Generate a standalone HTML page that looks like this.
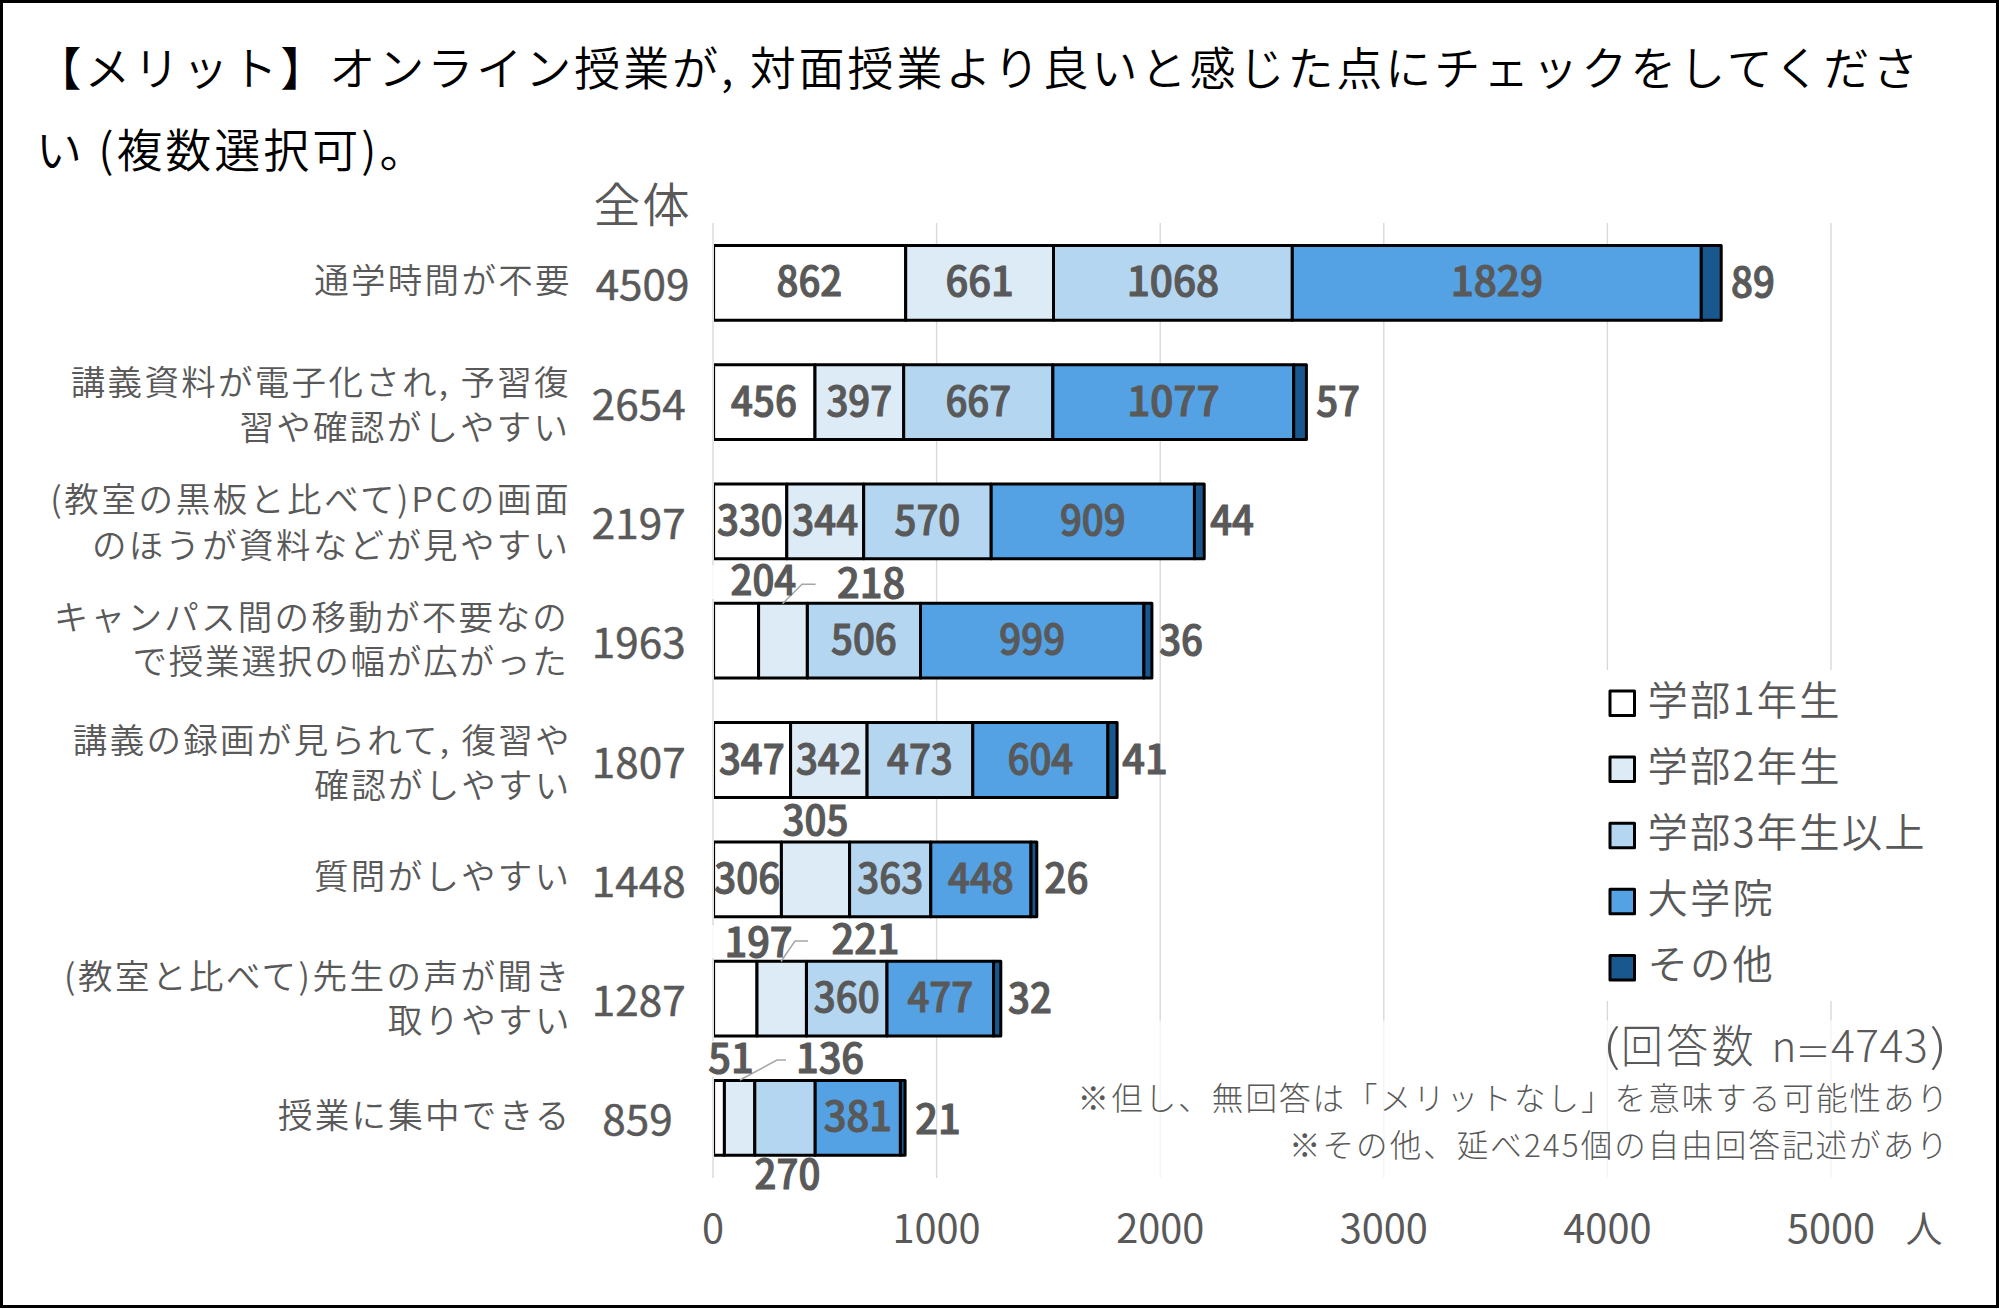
<!DOCTYPE html>
<html lang="ja"><head><meta charset="utf-8"><title>オンライン授業のメリット</title>
<style>html,body{margin:0;padding:0;background:#fff}svg{display:block}text{font-family:'Noto Sans CJK JP','Liberation Sans',sans-serif;}.t{fill:#000;font-size:46px;font-weight:350;letter-spacing:2.97px}.c{fill:#595959;font-size:34.5px;font-weight:350;letter-spacing:2.3px;text-anchor:end}.tot{fill:#595959;font-size:41px;font-weight:400;stroke:#595959;stroke-width:0.5px;text-anchor:middle}.d{fill:#595959;font-size:40.5px;font-weight:500;stroke:#595959;stroke-width:1.1px;stroke-linejoin:round;text-anchor:middle}.ax{fill:#595959;font-size:39.7px;text-anchor:middle}.lg{fill:#595959;font-size:40.3px;font-weight:350;letter-spacing:2.2px}.n{fill:#595959;font-size:44.5px;font-weight:300;letter-spacing:0.5px}.nt{fill:#595959;font-size:31.5px;font-weight:300;letter-spacing:2.06px;text-anchor:end}</style></head><body>
<svg width="1999" height="1309" viewBox="0 0 1999 1309">
<rect x="0" y="0" width="1999" height="1309" fill="#fff"/>
<defs><clipPath id="cl"><rect x="714.1" y="200" width="1300" height="1000"/></clipPath></defs>
<g stroke="#D9D9D9" stroke-width="1.4">
<line x1="713.0" y1="223" x2="713.0" y2="1178"/>
<line x1="936.6" y1="223" x2="936.6" y2="1178"/>
<line x1="1160.2" y1="223" x2="1160.2" y2="1178"/>
<line x1="1383.8" y1="223" x2="1383.8" y2="1178"/>
<line x1="1607.4" y1="223" x2="1607.4" y2="1178"/>
<line x1="1831.0" y1="223" x2="1831.0" y2="1178"/>
</g>
<rect x="1066" y="1020.5" width="890" height="160" fill="#fff" fill-opacity="0.72"/>
<rect x="1596" y="670" width="345" height="331" fill="#fff"/>
<rect x="711" y="565" width="104.6" height="34" fill="#fff" fill-opacity="0.8"/>
<rect x="710.9" y="925" width="97.7" height="33" fill="#fff" fill-opacity="0.8"/>
<rect x="674" y="1041" width="112" height="36" fill="#fff" fill-opacity="0.8"/>
<g stroke="#000" stroke-width="3" stroke-linejoin="round" clip-path="url(#cl)">
<rect x="713.6" y="245.4" width="192.1" height="74.8" fill="#FFFFFF"/>
<rect x="905.7" y="245.4" width="147.8" height="74.8" fill="#DDEBF7"/>
<rect x="1053.5" y="245.4" width="238.8" height="74.8" fill="#B4D6F1"/>
<rect x="1292.3" y="245.4" width="409.0" height="74.8" fill="#54A1E4"/>
<rect x="1701.3" y="245.4" width="19.9" height="74.8" fill="#19588F"/>
</g>
<g stroke="#000" stroke-width="3" stroke-linejoin="round" clip-path="url(#cl)">
<rect x="713.6" y="364.7" width="101.4" height="74.8" fill="#FFFFFF"/>
<rect x="815.0" y="364.7" width="88.8" height="74.8" fill="#DDEBF7"/>
<rect x="903.7" y="364.7" width="149.1" height="74.8" fill="#B4D6F1"/>
<rect x="1052.9" y="364.7" width="240.8" height="74.8" fill="#54A1E4"/>
<rect x="1293.7" y="364.7" width="12.7" height="74.8" fill="#19588F"/>
</g>
<g stroke="#000" stroke-width="3" stroke-linejoin="round" clip-path="url(#cl)">
<rect x="713.6" y="484.0" width="73.2" height="74.8" fill="#FFFFFF"/>
<rect x="786.8" y="484.0" width="76.9" height="74.8" fill="#DDEBF7"/>
<rect x="863.7" y="484.0" width="127.5" height="74.8" fill="#B4D6F1"/>
<rect x="991.2" y="484.0" width="203.3" height="74.8" fill="#54A1E4"/>
<rect x="1194.4" y="484.0" width="9.8" height="74.8" fill="#19588F"/>
</g>
<g stroke="#000" stroke-width="3" stroke-linejoin="round" clip-path="url(#cl)">
<rect x="713.6" y="603.3" width="45.0" height="74.8" fill="#FFFFFF"/>
<rect x="758.6" y="603.3" width="48.7" height="74.8" fill="#DDEBF7"/>
<rect x="807.4" y="603.3" width="113.1" height="74.8" fill="#B4D6F1"/>
<rect x="920.5" y="603.3" width="223.4" height="74.8" fill="#54A1E4"/>
<rect x="1143.9" y="603.3" width="8.0" height="74.8" fill="#19588F"/>
</g>
<g stroke="#000" stroke-width="3" stroke-linejoin="round" clip-path="url(#cl)">
<rect x="713.6" y="722.6" width="77.0" height="74.8" fill="#FFFFFF"/>
<rect x="790.6" y="722.6" width="76.5" height="74.8" fill="#DDEBF7"/>
<rect x="867.1" y="722.6" width="105.8" height="74.8" fill="#B4D6F1"/>
<rect x="972.8" y="722.6" width="135.1" height="74.8" fill="#54A1E4"/>
<rect x="1107.9" y="722.6" width="9.2" height="74.8" fill="#19588F"/>
</g>
<g stroke="#000" stroke-width="3" stroke-linejoin="round" clip-path="url(#cl)">
<rect x="713.6" y="841.9" width="67.8" height="74.8" fill="#FFFFFF"/>
<rect x="781.4" y="841.9" width="68.2" height="74.8" fill="#DDEBF7"/>
<rect x="849.6" y="841.9" width="81.2" height="74.8" fill="#B4D6F1"/>
<rect x="930.8" y="841.9" width="100.2" height="74.8" fill="#54A1E4"/>
<rect x="1031.0" y="841.9" width="5.8" height="74.8" fill="#19588F"/>
</g>
<g stroke="#000" stroke-width="3" stroke-linejoin="round" clip-path="url(#cl)">
<rect x="713.6" y="961.2" width="43.4" height="74.8" fill="#FFFFFF"/>
<rect x="757.0" y="961.2" width="49.4" height="74.8" fill="#DDEBF7"/>
<rect x="806.5" y="961.2" width="80.5" height="74.8" fill="#B4D6F1"/>
<rect x="887.0" y="961.2" width="106.7" height="74.8" fill="#54A1E4"/>
<rect x="993.6" y="961.2" width="7.2" height="74.8" fill="#19588F"/>
</g>
<g stroke="#000" stroke-width="3" stroke-linejoin="round" clip-path="url(#cl)">
<rect x="713.6" y="1080.5" width="10.8" height="74.8" fill="#FFFFFF"/>
<rect x="724.4" y="1080.5" width="30.4" height="74.8" fill="#DDEBF7"/>
<rect x="754.8" y="1080.5" width="60.4" height="74.8" fill="#B4D6F1"/>
<rect x="815.2" y="1080.5" width="85.2" height="74.8" fill="#54A1E4"/>
<rect x="900.4" y="1080.5" width="4.7" height="74.8" fill="#19588F"/>
</g>
<g fill="none" stroke="#A6A6A6" stroke-width="1.5">
<polyline points="782.5,603.8 802,584.3 815.6,584.3"/>
<polyline points="781,961.5 795,941 808,941"/>
<polyline points="740,1080 777,1060 786,1060"/>
</g>
<text class="d" transform="translate(809.4,296.3) scale(0.95,1)">862</text>
<text class="d" transform="translate(979.6,296.3) scale(0.985,1)">661</text>
<text class="d" transform="translate(1172.9,296.3) scale(1.0,1)">1068</text>
<text class="d" transform="translate(1496.8,296.3) scale(1.0,1)">1829</text>
<text class="d" transform="translate(1752.9,296.8) scale(0.95,1)">89</text>
<text class="d" transform="translate(764.0,415.6) scale(0.95,1)">456</text>
<text class="d" transform="translate(859.3,415.6) scale(0.95,1)">397</text>
<text class="d" transform="translate(978.3,415.6) scale(0.95,1)">667</text>
<text class="d" transform="translate(1173.3,415.6) scale(1.0,1)">1077</text>
<text class="d" transform="translate(1338.1,416.1) scale(0.95,1)">57</text>
<text class="d" transform="translate(749.9,534.9) scale(0.95,1)">330</text>
<text class="d" transform="translate(825.2,534.9) scale(0.95,1)">344</text>
<text class="d" transform="translate(927.4,534.9) scale(0.95,1)">570</text>
<text class="d" transform="translate(1092.8,534.9) scale(0.95,1)">909</text>
<text class="d" transform="translate(1232.1,535.4) scale(0.95,1)">44</text>
<text class="d" transform="translate(763.4,594.8) scale(0.95,1)">204</text>
<text class="d" transform="translate(871.1,597.8) scale(0.985,1)">218</text>
<text class="d" transform="translate(863.9,654.2) scale(0.95,1)">506</text>
<text class="d" transform="translate(1032.2,654.2) scale(0.95,1)">999</text>
<text class="d" transform="translate(1181.1,654.7) scale(0.95,1)">36</text>
<text class="d" transform="translate(751.8,773.5) scale(0.95,1)">347</text>
<text class="d" transform="translate(828.8,773.5) scale(0.95,1)">342</text>
<text class="d" transform="translate(919.9,773.5) scale(0.95,1)">473</text>
<text class="d" transform="translate(1040.4,773.5) scale(0.95,1)">604</text>
<text class="d" transform="translate(1145.0,774.0) scale(0.985,1)">41</text>
<text class="d" transform="translate(747.2,892.8) scale(0.95,1)">306</text>
<text class="d" transform="translate(815.5,835.0) scale(0.95,1)">305</text>
<text class="d" transform="translate(890.2,892.8) scale(0.95,1)">363</text>
<text class="d" transform="translate(980.9,892.8) scale(0.95,1)">448</text>
<text class="d" transform="translate(1066.5,893.3) scale(0.95,1)">26</text>
<text class="d" transform="translate(758.5,956.5) scale(0.985,1)">197</text>
<text class="d" transform="translate(865.5,954.0) scale(0.985,1)">221</text>
<text class="d" transform="translate(846.7,1012.1) scale(0.95,1)">360</text>
<text class="d" transform="translate(940.3,1012.1) scale(0.95,1)">477</text>
<text class="d" transform="translate(1029.9,1012.6) scale(0.95,1)">32</text>
<text class="d" transform="translate(731.0,1072.5) scale(0.985,1)">51</text>
<text class="d" transform="translate(830.0,1072.5) scale(0.985,1)">136</text>
<text class="d" transform="translate(787.5,1188.5) scale(0.95,1)">270</text>
<text class="d" transform="translate(857.8,1131.4) scale(0.985,1)">381</text>
<text class="d" transform="translate(938.1,1133.9) scale(0.985,1)">21</text>
<text class="tot" transform="translate(642.5,300.3) scale(1.03,1)">4509</text>
<text class="tot" transform="translate(638.7,419.6) scale(1.03,1)">2654</text>
<text class="tot" transform="translate(638.7,538.9) scale(1.03,1)">2197</text>
<text class="tot" transform="translate(638.7,658.2) scale(1.03,1)">1963</text>
<text class="tot" transform="translate(638.7,777.5) scale(1.03,1)">1807</text>
<text class="tot" transform="translate(638.7,896.8) scale(1.03,1)">1448</text>
<text class="tot" transform="translate(638.7,1016.1) scale(1.03,1)">1287</text>
<text class="tot" transform="translate(637.5,1135.4) scale(1.03,1)">859</text>
<text x="593.5" y="222" fill="#595959" font-size="47" font-weight="350" letter-spacing="2">全体</text>
<text class="c" x="571.8" y="293.3">通学時間が不要</text>
<text class="c" x="570.8" y="394.7">講義資料が電子化され, 予習復</text>
<text class="c" x="570.3" y="439.6">習や確認がしやすい</text>
<text class="c" x="571.3" y="511.7" style="letter-spacing:2.63px">(教室の黒板と比べて)PCの画面</text>
<text class="c" x="570.3" y="558.4">のほうが資料などが見やすい</text>
<text class="c" x="569.0" y="629.5">キャンパス間の移動が不要なの</text>
<text class="c" x="568.6" y="673.5" style="letter-spacing:1.85px">で授業選択の幅が広がった</text>
<text class="c" x="571.8" y="752.6">講義の録画が見られて, 復習や</text>
<text class="c" x="571.6" y="798.2">確認がしやすい</text>
<text class="c" x="571.3" y="889.3">質問がしやすい</text>
<text class="c" x="571.5" y="989.2" style="letter-spacing:2.50px">(教室と比べて)先生の声が聞き</text>
<text class="c" x="571.7" y="1033.0">取りやすい</text>
<text class="c" x="571.6" y="1127.9">授業に集中できる</text>
<text class="ax" x="713.0" y="1243">0</text>
<text class="ax" x="936.6" y="1243">1000</text>
<text class="ax" x="1160.2" y="1243">2000</text>
<text class="ax" x="1383.8" y="1243">3000</text>
<text class="ax" x="1607.4" y="1243">4000</text>
<text class="ax" x="1831.0" y="1243">5000</text>
<text x="1905.5" y="1242.5" fill="#595959" font-size="37" font-weight="350">人</text>
<rect x="1610" y="691.0" width="24.5" height="24.5" fill="#FFFFFF" stroke="#000" stroke-width="3" stroke-linejoin="round"/>
<text class="lg" x="1647.5" y="714.6">学部1年生</text>
<rect x="1610" y="757.1" width="24.5" height="24.5" fill="#DDEBF7" stroke="#000" stroke-width="3" stroke-linejoin="round"/>
<text class="lg" x="1647.5" y="780.7">学部2年生</text>
<rect x="1610" y="823.2" width="24.5" height="24.5" fill="#B4D6F1" stroke="#000" stroke-width="3" stroke-linejoin="round"/>
<text class="lg" x="1647.5" y="846.8">学部3年生以上</text>
<rect x="1610" y="889.3" width="24.5" height="24.5" fill="#54A1E4" stroke="#000" stroke-width="3" stroke-linejoin="round"/>
<text class="lg" x="1647.5" y="912.9">大学院</text>
<rect x="1610" y="955.4" width="24.5" height="24.5" fill="#19588F" stroke="#000" stroke-width="3" stroke-linejoin="round"/>
<text class="lg" x="1647.5" y="979.0">その他</text>
<text class="n" transform="translate(1602.5,1062) scale(1.3,1)" style="font-size:44px">(</text>
<text class="n" transform="translate(1621,1062.5) scale(0.92,1)" style="font-size:45.5px;letter-spacing:3.8px">回答数</text>
<text class="n" y="1062"><tspan x="1771.5" style="font-size:42px">n</tspan><tspan x="1831">4743</tspan></text>
<text class="n" transform="translate(1929.5,1062) scale(1.3,1)" style="font-size:44px">)</text>
<text class="n" transform="translate(1798,1065.8) scale(1.42,1)" style="font-size:39.4px">=</text>
<text class="nt" x="1950.2" y="1110">※但し、無回答は「メリットなし」を意味する可能性あり</text>
<text class="nt" x="1949.8" y="1157">※その他、延べ245個の自由回答記述があり</text>
<text class="t" x="35.5" y="84.8">【メリット】オンライン授業が, 対面授業より良いと感じた点にチェックをしてくださ</text>
<text class="t" x="36" y="167.3">い (複数選択可)。</text>
<rect x="1.5" y="1.5" width="1996" height="1305" fill="none" stroke="#000" stroke-width="3"/>
</svg></body></html>
